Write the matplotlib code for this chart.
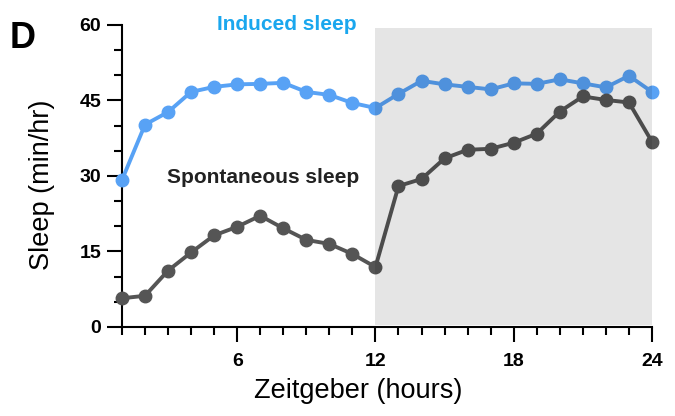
import matplotlib
matplotlib.use("Agg")
import matplotlib.pyplot as plt
from matplotlib.ticker import MultipleLocator, FixedLocator

plt.rcParams['font.family'] = ['Liberation Sans', 'DejaVu Sans']

hours = list(range(1, 25))
induced = [29.2, 40.2, 42.7, 46.7, 47.7, 48.2, 48.3, 48.5, 46.7, 46.1, 44.5, 43.5,
           46.3, 48.9, 48.2, 47.7, 47.2, 48.4, 48.3, 49.2, 48.4, 47.6, 49.9, 46.7]
spontaneous = [5.7, 6.2, 11.2, 14.8, 18.2, 19.9, 22.1, 19.6, 17.3, 16.5, 14.5, 11.9,
               28.0, 29.4, 33.5, 35.2, 35.4, 36.6, 38.4, 42.8, 45.8, 45.1, 44.6, 36.8]
x_major = [6, 12, 18, 24]
y_major = [0, 15, 30, 45, 60]

fig = plt.figure(figsize=(6.75, 4.16), dpi=100)
ax = fig.add_axes([0.1807, 0.214, 0.7852, 0.726])

ax.plot(hours, induced, color='#58a2f5', lw=2.8, marker='o', ms=9, zorder=3, clip_on=False)
ax.plot(hours, spontaneous, color='#555555', lw=2.8, marker='o', ms=9, zorder=3, clip_on=False)
ax.axvspan(12, 24, ymin=0.007, ymax=0.99, color='black', alpha=0.1, lw=0, zorder=5)

ax.set_xlim(1, 24)
ax.set_ylim(0, 60)
ax.xaxis.set_major_locator(FixedLocator(x_major))
ax.xaxis.set_minor_locator(MultipleLocator(1))
ax.yaxis.set_major_locator(FixedLocator(y_major))
ax.yaxis.set_minor_locator(MultipleLocator(5))

for s in ['top', 'right']:
    ax.spines[s].set_visible(False)
for s in ['left', 'bottom']:
    ax.spines[s].set_linewidth(1.5)
ax.spines['bottom'].set_bounds(1, 24)

ax.tick_params(axis='x', which='major', length=11, width=1.5, pad=8)
ax.tick_params(axis='x', which='minor', length=6, width=1.5)
ax.tick_params(axis='y', which='major', length=11, width=1.5, pad=4)
ax.tick_params(axis='y', which='minor', length=6, width=1.5)
for lab in ax.get_xticklabels() + ax.get_yticklabels():
    lab.set_fontweight('bold')
    lab.set_fontsize(14)

ax.set_xlabel('Zeitgeber (hours)', fontsize=19.5)
ax.set_ylabel('Sleep (min/hr)', fontsize=19.5)
ax.xaxis.set_label_coords(0.446, -0.168)
ax.yaxis.set_label_coords(-0.127, 0.47)

ax.text(8.16, 59.0, 'Induced sleep', color='#1aa7ee', fontsize=15, fontweight='bold',
        ha='center', va='baseline', zorder=6)
ax.text(7.12, 28.6, 'Spontaneous sleep', color='#222222', fontsize=15, fontweight='bold',
        ha='center', va='baseline', zorder=6)
fig.text(0.0148, 0.885, 'D', fontsize=26, fontweight='bold', ha='left', va='baseline')

fig.savefig('out.png', dpi=100)
